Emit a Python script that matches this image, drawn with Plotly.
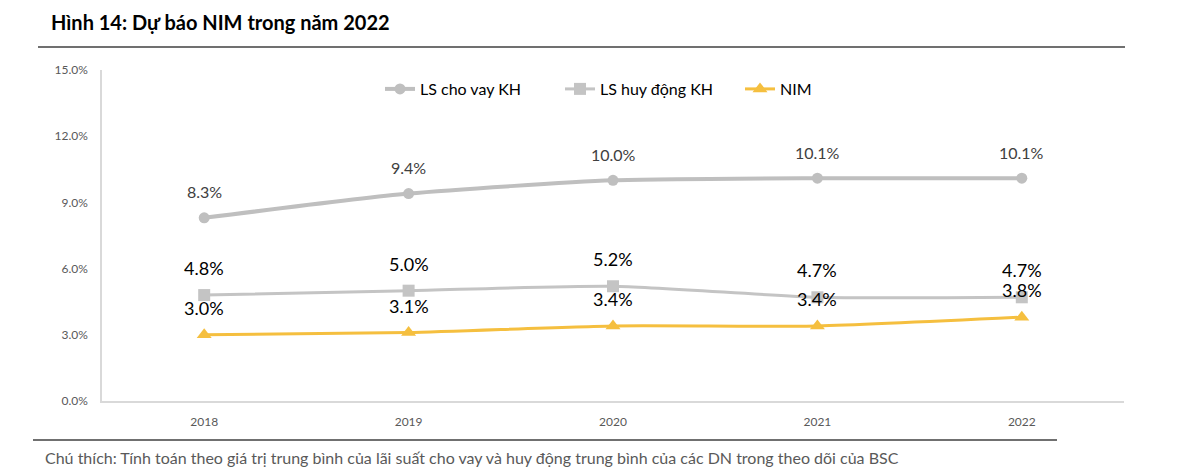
import plotly.graph_objects as go

years = ["2018", "2019", "2020", "2021", "2022"]
ls_cho_vay = [0.083, 0.094, 0.100, 0.101, 0.101]
ls_huy_dong = [0.048, 0.050, 0.052, 0.047, 0.047]
nim = [0.030, 0.031, 0.034, 0.034, 0.038]
y_ticks = [0.0, 0.03, 0.06, 0.09, 0.12, 0.15]

FONT = "Lato"
W, H = 1200, 468
L, R, T, B = 102, 76, 70, 67
pw, ph = W - L - R, H - T - B

def px_x(x):
    return (x - L) / pw

def px_y(y):
    return (H - B - y) / ph

fig = go.Figure()
fig.add_trace(go.Scatter(
    x=years, y=ls_cho_vay, name="LS cho vay KH", mode="lines+markers",
    line=dict(color="#BFBFBF", width=4, shape="spline", smoothing=0.6),
    marker=dict(symbol="circle", size=11, color="#BFBFBF"),
))
fig.add_trace(go.Scatter(
    x=years, y=ls_huy_dong, name="LS huy động KH", mode="lines+markers",
    line=dict(color="#C4C4C4", width=3, shape="spline", smoothing=0.6),
    marker=dict(symbol="square", size=12, color="#C4C4C4"),
))
fig.add_trace(go.Scatter(
    x=years, y=nim, name="NIM", mode="lines+markers",
    line=dict(color="#F5BF3F", width=3, shape="spline", smoothing=0.6),
    marker=dict(symbol="triangle-up", size=13, color="#F5BF3F"),
))

annotations = []
for i, yv in enumerate(ls_cho_vay):
    annotations.append(dict(x=i, y=yv, xref="x", yref="y", text=f"{yv*100:.1f}%", showarrow=False,
                            yshift=26, font=dict(family=FONT, size=16, color="#404040")))
for i, yv in enumerate(ls_huy_dong):
    annotations.append(dict(x=i, y=yv, xref="x", yref="y", text=f"{yv*100:.1f}%", showarrow=False,
                            yshift=27, font=dict(family=FONT, size=18, color="#000000")))
for i, yv in enumerate(nim):
    annotations.append(dict(x=i, y=yv, xref="x", yref="y", text=f"{yv*100:.1f}%", showarrow=False,
                            yshift=27, font=dict(family=FONT, size=18, color="#000000")))

annotations.append(dict(xref="paper", yref="paper", x=px_x(49), y=px_y(22),
                        xanchor="left", yanchor="middle", showarrow=False,
                        text="<b>Hình 14: Dự báo NIM trong năm 2022</b>",
                        font=dict(family=FONT, size=20, color="#000000")))
annotations.append(dict(xref="paper", yref="paper", x=px_x(43), y=px_y(457),
                        xanchor="left", yanchor="middle", showarrow=False,
                        text="Chú thích: Tính toán theo giá trị trung bình của lãi suất cho vay và huy động trung bình của các DN trong theo dõi của BSC",
                        font=dict(family=FONT, size=16, color="#595959")))

shapes = [
    dict(type="line", xref="paper", yref="paper", x0=px_x(38), x1=px_x(1125),
         y0=px_y(47), y1=px_y(47), line=dict(color="#404040", width=1.5)),
    dict(type="line", xref="paper", yref="paper", x0=px_x(33), x1=px_x(1057),
         y0=px_y(440), y1=px_y(440), line=dict(color="#404040", width=1.5)),
]

fig.update_layout(
    width=W, height=H,
    margin=dict(l=L, r=R, t=T, b=B),
    paper_bgcolor="white", plot_bgcolor="white",
    font=dict(family=FONT),
    showlegend=True,
    legend=dict(orientation="h", x=px_x(380), xanchor="left", y=px_y(89), yanchor="middle",
                entrywidth=135, entrywidthmode="pixels",
                font=dict(family=FONT, size=16, color="#000000"), bgcolor="rgba(0,0,0,0)"),
    annotations=annotations,
    shapes=shapes,
    xaxis=dict(type="category", range=[-0.5, 4.5], showline=True, linecolor="#D9D9D9",
               linewidth=1.5, showgrid=False, ticks="", ticklabelstandoff=9,
               tickfont=dict(family=FONT, size=12, color="#595959")),
    yaxis=dict(range=[0, 0.15], tickvals=y_ticks, tickformat=".1%", showline=True,
               linecolor="#D9D9D9", linewidth=1.5, showgrid=False, zeroline=False, ticks="",
               ticklabelstandoff=10,
               tickfont=dict(family=FONT, size=12, color="#595959")),
)

fig.write_html("out.html", config={"displayModeBar": False},
               post_script="document.body.style.margin='0';document.body.style.overflow='hidden';")
